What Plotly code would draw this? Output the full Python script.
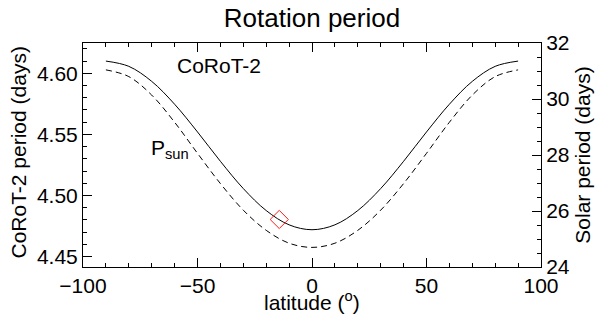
import plotly.graph_objs as go

###
# values
latitude = [-90, -80, -70, -60, -50, -40, -30, -20, -10, 0,
            10, 20, 30, 40, 50, 60, 70, 80, 90]
corot2_period = [4.6100, 4.6057, 4.5934, 4.5747, 4.5520, 4.5280, 4.5057, 4.4877, 4.4760, 4.4720,
                 4.4760, 4.4877, 4.5057, 4.5280, 4.5520, 4.5747, 4.5934, 4.6057, 4.6100]
solar_period = [31.04, 30.80, 30.14, 29.17, 28.06, 26.98, 26.03, 25.31, 24.85, 24.70,
                24.85, 25.31, 26.03, 26.98, 28.06, 29.17, 30.14, 30.80, 31.04]
spot_lat = [-14.3]
spot_period = [4.4804]

FONT = "Liberation Sans, Arial, Helvetica, sans-serif"
FS = 21


def main():
  trace_corot = go.Scatter(
    x=latitude, y=corot2_period, mode="lines",
    line=dict(color="black", width=1, shape="spline"),
    showlegend=False
  )
  trace_sun = go.Scatter(
    x=latitude, y=solar_period, mode="lines", yaxis="y2",
    line=dict(color="black", width=1, dash="6px,4px", shape="spline"),
    showlegend=False
  )
  trace_spot = go.Scatter(
    x=spot_lat, y=spot_period, mode="markers",
    marker=dict(symbol="diamond-open", size=14, color="#ff1a1a", line=dict(width=1)),
    showlegend=False
  )

  fig = go.Figure([trace_corot, trace_sun, trace_spot])

  axis_common = dict(
    showline=True, linecolor="black", linewidth=1,
    ticks="inside", ticklen=9, tickwidth=1, tickcolor="black",
    showgrid=False, zeroline=False,
    tickfont=dict(size=FS, color="black", family=FONT),
  )

  fig.update_layout(
    width=600, height=325,
    margin=dict(l=83, r=59, t=43, b=58, autoexpand=False),
    paper_bgcolor="white", plot_bgcolor="white",
    font=dict(family=FONT, color="black"),
    hovermode=False,
    title=dict(text="Rotation period", x=0.52, xanchor="center", y=0.945, yanchor="middle",
               font=dict(size=26, color="black", family=FONT)),
    xaxis=dict(
      range=[-100, 100], tickvals=[-100, -50, 0, 50, 100], mirror="ticks",
      minor=dict(ticks="inside", dtick=10, ticklen=4, tickcolor="black"),
      **axis_common
    ),
    yaxis=dict(
      range=[4.4415, 4.6248], tickvals=[4.45, 4.50, 4.55, 4.60], tickformat=".2f",
      minor=dict(ticks="inside", dtick=0.01, tick0=4.45, ticklen=4, tickcolor="black"),
      **axis_common
    ),
    yaxis2=dict(
      range=[24, 32], tickvals=[24, 26, 28, 30, 32], overlaying="y", side="right",
      minor=dict(ticks="inside", dtick=0.5, tick0=24, ticklen=4, tickcolor="black"),
      title=dict(text="Solar period (days)", font=dict(size=FS), standoff=6),
      **axis_common
    ),
    annotations=[
      # axis titles placed by hand, tighter than plotly would put them
      dict(x=-0.141, y=0.513, xref="paper", yref="paper", text="CoRoT-2 period (days)",
           textangle=-90, showarrow=False, xanchor="center", yanchor="middle",
           font=dict(size=FS, family=FONT, color="black")),
      dict(x=0.5, y=-0.152, xref="paper", yref="paper", text="latitude (<sup>o</sup>)",
           showarrow=False, xanchor="center", yanchor="middle",
           font=dict(size=FS, family=FONT, color="black")),
      dict(x=-40.6, y=4.606, xref="x", yref="y", text="CoRoT-2", showarrow=False,
           font=dict(size=FS, family=FONT, color="black")),
      dict(x=-62, y=4.538, xref="x", yref="y", text="P<sub>sun</sub>", showarrow=False,
           font=dict(size=FS, family=FONT, color="black")),
    ],
  )

  # drop the default 8px page margin so the figure fills the window
  fig.write_html("out.html", config={"displayModeBar": False},
                 post_script="document.body.style.margin = '0';")


###
if __name__ == '__main__':
  main()
